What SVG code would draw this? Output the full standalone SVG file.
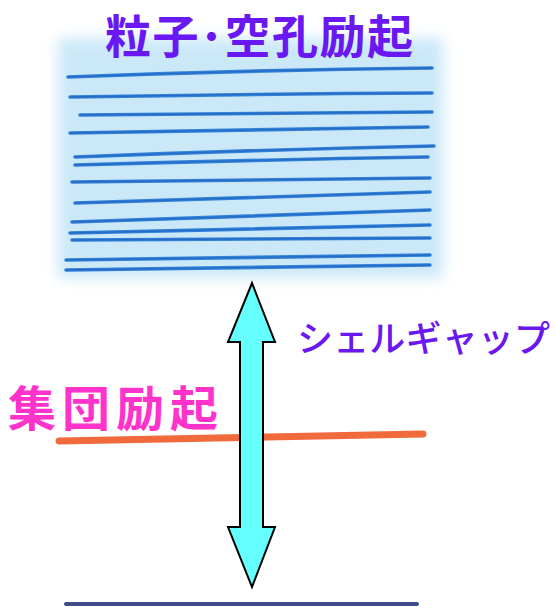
<svg xmlns="http://www.w3.org/2000/svg" width="556" height="612" viewBox="0 0 556 612">
  <style>
    .jp { font-family: "Noto Sans CJK JP", "Noto Sans", sans-serif; }
    .title { font-size: 46px; font-weight: bold; fill: #6a18f2; }
    .coll { font-size: 48px; font-weight: bold; fill: #ff33cc; }
    .gap { font-size: 36px; font-weight: 500; fill: #6a18f2; }
    .band { fill: none; stroke: #3282d8; stroke-width: 3.6; stroke-linecap: round; }
    .band2 { fill: none; stroke: #1c5cbc; stroke-width: 1.3; stroke-linecap: round; opacity: 0.6; }
  </style>
  <defs>
    <filter id="soft" x="-20%" y="-20%" width="140%" height="140%">
      <feGaussianBlur stdDeviation="7"/>
    </filter>
  </defs>
  <rect x="0" y="0" width="556" height="612" fill="#ffffff"/>

  <g id="particle-hole-band">
    <rect x="58" y="38" width="385" height="240" fill="#cbe8f8" filter="url(#soft)"/>
    <path class="band" d="M68,77 Q250,70 432,68"/>
    <path class="band" d="M70,97 Q250,94 432,93"/>
    <path class="band" d="M80,115 Q250,114 432,112"/>
    <path class="band" d="M70,133 Q250,130 428,127"/>
    <path class="band" d="M75,157 Q250,150 434,146"/>
    <path class="band" d="M75,165 Q250,160 428,157"/>
    <path class="band" d="M72,182 Q250,180 430,178"/>
    <path class="band" d="M75,203 Q250,198 430,192"/>
    <path class="band" d="M72,222 Q250,216 430,210"/>
    <path class="band" d="M70,233 Q250,229 430,225"/>
    <path class="band" d="M72,240 Q250,239 430,238"/>
    <path class="band" d="M66,260 Q250,257 430,255"/>
    <path class="band" d="M66,270 Q250,267 430,265"/>
    <path class="band2" d="M68,77 Q250,70 432,68 M70,97 Q250,94 432,93 M80,115 Q250,114 432,112 M70,133 Q250,130 428,127 M75,157 Q250,150 434,146 M75,165 Q250,160 428,157 M72,182 Q250,180 430,178 M75,203 Q250,198 430,192 M72,222 Q250,216 430,210 M70,233 Q250,229 430,225 M72,240 Q250,239 430,238 M66,260 Q250,257 430,255 M66,270 Q250,267 430,265"/>
  </g>

  <g id="title">
    <text class="jp title" x="105" y="53" textLength="308" lengthAdjust="spacing">粒子･空孔励起</text>
  </g>

  <g id="collective-label">
    <text class="jp coll" x="8" y="426" textLength="210" lengthAdjust="spacing">集団励起</text>
  </g>

  <g id="collective-level">
    <path d="M59,441 Q240,437 423,434" fill="none" stroke="#f06a3c" stroke-width="7" stroke-linecap="round"/>
  </g>

  <g id="ground-level">
    <path d="M66,604 L417,604" fill="none" stroke="#3c4c86" stroke-width="4" stroke-linecap="round"/>
  </g>

  <g id="shell-gap-label">
    <text class="jp gap" x="297" y="352" textLength="253" lengthAdjust="spacing">シェルギャップ</text>
  </g>

  <g id="connectors">
    <path d="M252,283 L275,342 L263,342 L263,527 L275,527 L252,587 L228,527 L240,527 L240,342 L228,342 Z" fill="#66ffff" stroke="#000000" stroke-width="2" stroke-linejoin="miter"/>
  </g>
</svg>
